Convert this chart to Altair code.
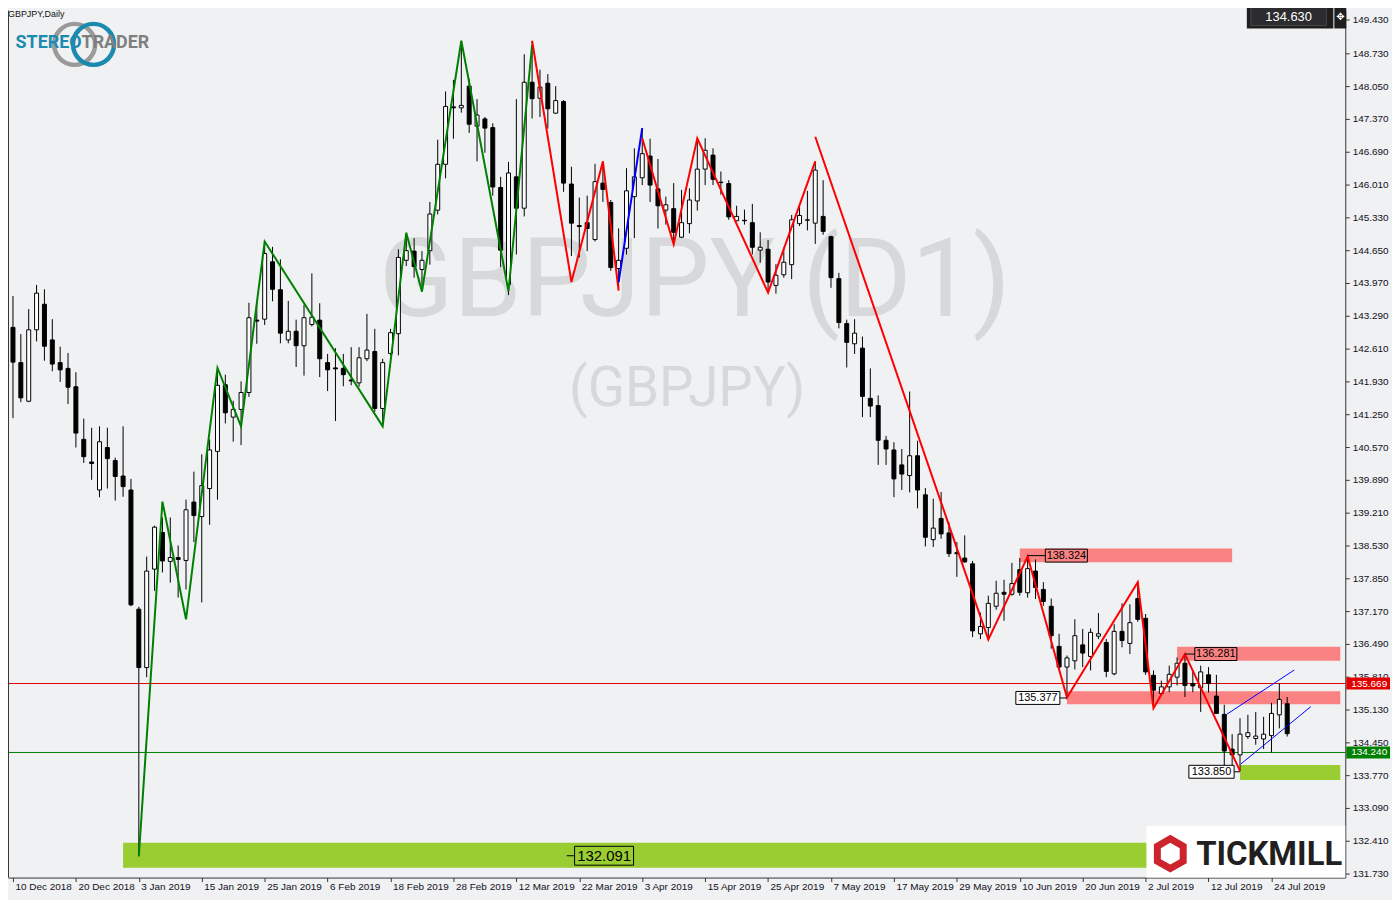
import altair as alt
import pandas as pd

# ---------------- layout constants ----------------
W, H = 1345, 872
XMIN, XMAX = 0.0, 168.75
YMIN, YMAX = 131.648, 149.616
PPU = H / (YMAX - YMIN)          # pixels per price unit
BG = "#F0F1F3"

# ---------------- data ----------------
opens = [143.05, 142.32, 141.52, 143.00, 143.53, 142.79, 142.32, 142.20, 141.82, 140.73,
         140.26, 139.68, 140.56, 140.29, 139.97, 139.68, 137.21, 136.00, 138.04, 138.80,
         138.20, 138.28, 138.22, 139.43, 139.13, 139.71, 140.48, 141.86, 141.19, 141.35,
         141.70, 143.20, 143.22, 144.41, 143.83, 142.79, 142.97, 142.67, 143.11, 143.20,
         142.32, 142.21, 142.20, 141.96, 141.90, 142.40, 142.55, 141.37, 142.51, 142.92,
         144.44, 144.63, 144.25, 144.64, 145.48, 146.43, 147.62, 147.60, 148.05, 147.22,
         147.37, 147.19, 145.95, 143.94, 146.17, 145.52, 148.13, 147.80, 148.11, 147.49,
         147.73, 146.02, 145.16, 145.22, 144.87, 146.04, 145.64, 144.27, 144.69, 145.76,
         146.15, 146.60, 145.92, 145.48, 145.51, 144.92, 145.20, 145.67, 146.33, 146.62,
         146.06, 146.03, 145.26, 145.27, 145.22, 144.65, 144.67, 143.92, 144.14, 144.35,
         145.20, 145.27, 145.21, 145.35, 144.93, 144.06, 143.13, 142.71, 142.62, 141.58,
         141.43, 140.71, 140.51, 140.20, 139.98, 140.39, 139.58, 138.65, 139.09, 138.79,
         138.38, 138.27, 138.15, 136.70, 136.83, 137.27, 137.56, 137.52, 138.03, 137.55,
         138.00, 137.62, 137.27, 136.44, 136.01, 136.14, 136.47, 136.23, 136.65, 136.52,
         135.87, 136.75, 136.50, 137.43, 137.02, 135.84, 135.46, 135.60, 135.80, 136.09,
         135.67, 135.58, 135.85, 135.41, 135.03, 134.31, 134.19, 134.57, 134.53, 134.52,
         134.59, 135.02, 135.25]
highs = [143.70, 142.91, 143.43, 143.93, 143.84, 143.22, 142.65, 142.52, 142.12, 141.16,
         140.97, 141.00, 140.97, 140.35, 141.00, 139.91, 137.26, 138.30, 138.94, 139.11,
         139.11, 138.53, 139.48, 140.06, 140.42, 140.73, 142.19, 142.07, 141.53, 141.93,
         143.56, 143.56, 144.84, 144.72, 144.46, 143.60, 143.21, 143.52, 144.17, 143.55,
         142.50, 142.62, 142.50, 142.64, 142.64, 143.33, 143.02, 142.40, 143.02, 144.67,
         145.01, 144.90, 144.63, 145.65, 146.94, 147.94, 148.18, 148.98, 148.20, 147.78,
         147.41, 147.28, 146.17, 146.48, 147.78, 148.71, 148.98, 148.39, 148.30, 148.05,
         147.76, 146.38, 145.74, 145.78, 146.44, 146.49, 145.69, 145.10, 146.35, 146.76,
         147.18, 146.96, 146.54, 145.76, 146.04, 145.90, 145.93, 146.97, 146.97, 146.76,
         146.28, 146.10, 145.57, 145.49, 145.61, 145.02, 144.86, 144.36, 144.71, 145.38,
         145.61, 145.88, 146.49, 146.10, 144.95, 144.18, 143.21, 143.22, 142.86, 142.20,
         141.64, 140.80, 140.67, 140.53, 141.72, 140.70, 139.72, 139.50, 139.64, 139.01,
         138.60, 138.74, 138.21, 137.14, 137.49, 137.80, 137.82, 138.17, 138.27, 138.32,
         138.24, 137.77, 137.43, 136.70, 136.25, 137.00, 136.80, 136.81, 137.13, 136.59,
         136.90, 137.33, 137.31, 137.78, 137.11, 135.94, 135.73, 136.04, 136.21, 136.28,
         135.94, 136.04, 136.01, 135.85, 135.23, 134.62, 134.95, 135.02, 135.08, 134.98,
         135.27, 135.67, 135.39]
lows = [141.17, 141.50, 141.50, 142.76, 142.36, 142.14, 141.92, 141.46, 140.56, 140.24,
        139.89, 139.53, 139.71, 139.46, 139.54, 137.27, 132.09, 135.80, 137.59, 137.97,
        137.76, 137.45, 137.62, 138.60, 137.35, 138.96, 139.48, 141.06, 140.68, 140.61,
        141.61, 142.71, 143.10, 143.59, 142.72, 142.72, 142.23, 142.05, 143.07, 142.02,
        141.73, 141.11, 141.83, 141.85, 141.82, 142.35, 141.30, 141.02, 142.47, 142.47,
        144.32, 144.08, 143.81, 144.35, 145.39, 146.14, 146.96, 147.50, 147.08, 146.49,
        146.67, 145.78, 144.30, 143.72, 144.56, 145.35, 147.38, 147.41, 147.17, 147.48,
        145.86, 144.53, 144.50, 144.63, 144.83, 145.65, 144.22, 143.85, 144.56, 144.90,
        146.00, 145.65, 145.10, 145.18, 144.78, 144.90, 145.00, 145.47, 146.00, 146.00,
        145.80, 145.28, 145.25, 145.18, 144.56, 144.39, 143.77, 143.75, 144.08, 144.05,
        145.15, 145.06, 144.78, 144.97, 143.87, 143.03, 142.22, 142.50, 141.19, 141.19,
        140.20, 140.20, 139.53, 139.68, 139.63, 139.30, 138.51, 138.50, 138.67, 138.29,
        137.88, 138.17, 136.63, 136.59, 136.58, 137.20, 136.97, 137.49, 137.49, 137.45,
        137.42, 137.28, 136.39, 135.94, 135.38, 135.96, 136.01, 135.94, 136.59, 135.80,
        135.84, 136.42, 136.28, 136.95, 135.85, 135.16, 135.43, 135.49, 135.63, 135.39,
        135.49, 135.08, 135.48, 135.05, 133.97, 133.97, 133.85, 134.52, 134.40, 134.31,
        134.24, 134.74, 134.57]
closes = [142.33, 141.59, 143.00, 143.76, 142.66, 142.29, 142.17, 141.81, 140.86, 140.37,
          140.23, 140.68, 140.33, 139.96, 139.75, 137.30, 136.00, 138.00, 138.91, 138.21,
          138.28, 138.24, 139.27, 139.15, 139.77, 140.51, 141.85, 141.28, 141.35, 141.70,
          143.25, 143.18, 144.58, 143.84, 142.93, 142.97, 142.67, 143.25, 143.26, 142.40,
          142.17, 142.19, 142.07, 141.94, 142.42, 142.58, 141.37, 142.32, 142.94, 144.50,
          144.64, 144.31, 144.44, 145.40, 146.43, 147.63, 147.60, 147.65, 147.26, 147.45,
          147.18, 145.96, 144.65, 146.25, 145.52, 148.13, 147.79, 148.03, 147.58, 147.75,
          146.04, 145.21, 145.14, 145.10, 146.07, 145.91, 144.29, 144.44, 145.88, 146.17,
          146.65, 146.00, 145.57, 145.59, 145.02, 145.22, 145.69, 146.33, 146.72, 146.12,
          146.05, 145.34, 145.35, 145.26, 144.71, 144.71, 143.99, 144.13, 144.40, 145.28,
          145.37, 145.28, 146.31, 145.04, 144.08, 143.15, 142.74, 142.93, 141.62, 141.42,
          140.71, 140.53, 139.91, 140.01, 140.39, 139.68, 138.70, 138.89, 138.77, 138.36,
          138.36, 138.19, 136.76, 136.85, 137.33, 137.54, 137.52, 137.74, 137.56, 138.05,
          137.66, 137.37, 136.66, 136.01, 136.20, 136.66, 136.30, 136.73, 136.70, 135.92,
          136.75, 136.56, 136.93, 137.00, 135.91, 135.53, 135.60, 135.86, 136.09, 135.63,
          135.62, 135.91, 135.67, 135.05, 134.27, 134.19, 134.62, 134.65, 134.58, 134.62,
          135.05, 135.34, 134.63]

date_labels = ["10 Dec 2018", "20 Dec 2018", "3 Jan 2019", "15 Jan 2019", "25 Jan 2019",
               "6 Feb 2019", "18 Feb 2019", "28 Feb 2019", "12 Mar 2019", "22 Mar 2019",
               "3 Apr 2019", "15 Apr 2019", "25 Apr 2019", "7 May 2019", "17 May 2019",
               "29 May 2019", "10 Jun 2019", "20 Jun 2019", "2 Jul 2019", "12 Jul 2019",
               "24 Jul 2019"]
date_ticks = [8 * k for k in range(len(date_labels))]
price_ticks = [149.43, 148.73, 148.05, 147.37, 146.69, 146.01, 145.33, 144.65, 143.97,
               143.29, 142.61, 141.93, 141.25, 140.57, 139.89, 139.21, 138.53, 137.85,
               137.17, 136.49, 135.81, 135.13, 134.45, 133.77, 133.09, 132.41, 131.73]

# zigzag polylines (bar index, price)
zz_green = [(16, 132.09), (19, 139.44), (22, 137.00), (26, 142.21), (29, 141.00), (32, 144.83),
            (47, 141.00), (50, 145.01), (52, 143.79), (57, 148.99), (63, 143.80), (66, 148.90)]
zz_red_a = [(66, 148.99), (71, 143.99), (75, 146.49), (77, 143.81)]
zz_blue = [(77, 143.99), (80, 147.18)]
zz_red_b = [(80, 146.97), (84, 144.77), (87, 146.97), (96, 143.77), (102, 146.49)]
zz_red_c = [(102, 147.00), (124, 136.58), (129, 138.30), (134, 135.38), (143, 137.77),
            (145, 135.16), (149, 136.28), (156, 133.86)]
chan_upper = [(154.3, 135.03), (162.9, 135.95)]
chan_lower = [(156.1, 134.00), (165.0, 135.19)]

# zones
zone_x0 = [128, 148, 134, 156, 14]
zone_x1 = [155, XMAX, XMAX, XMAX, XMAX]
zone_top = [138.47, 136.43, 135.51, 133.98, 132.37]
zone_bot = [138.18, 136.14, 135.24, 133.67, 131.85]
zone_col = ["#FA8282", "#FA8282", "#FA8282", "#9ACD32", "#9ACD32"]

# level labels
ann_text = ["138.324", "136.281", "135.377", "133.850", "132.091"]
ann_price = [138.32, 136.28, 135.37, 133.84, 132.10]
ann_x0 = [131.25, 150.25, 127.5, 149.5, 71.4]
ann_x1 = [136.6, 155.6, 133.1, 155.25, 78.9]
ann_anchor = [129, 149, 134, 156, 70.4]
ann_fill = ["transparent", "transparent", "#FFFFFF", "#FFFFFF", "transparent"]
ann_fs = [11, 11, 11, 11, 15]
ann_hpx = [13, 13, 13, 13, 19]

hline_price = [135.669, 134.240]
hline_col = ["#E00000", "#008000"]
last_price = 134.630

# ---------------- frames ----------------
candles = pd.DataFrame({"i": list(range(len(opens))), "o": opens, "h": highs, "l": lows, "c": closes})
candles["lo"] = candles[["o", "c"]].min(axis=1)
candles["hi"] = candles[["o", "c"]].max(axis=1)

rows = []
for sid, (pts, col) in enumerate([(zz_green, "#008000"), (zz_red_a, "#FF0000"), (zz_blue, "#0000FF"),
                                  (zz_red_b, "#FF0000"), (zz_red_c, "#FF0000")]):
    for k, (i, p) in enumerate(pts):
        rows.append({"seg": sid, "ord": k, "i": i, "p": p, "col": col})
zz = pd.DataFrame(rows)

rows = []
for sid, pts in enumerate([chan_upper, chan_lower]):
    for k, (i, p) in enumerate(pts):
        rows.append({"seg": sid, "ord": k, "i": i, "p": p})
chan = pd.DataFrame(rows)

zones = pd.DataFrame({"x0": zone_x0, "x1": zone_x1, "top": zone_top, "bot": zone_bot, "col": zone_col})

ann = pd.DataFrame({"t": ann_text, "p": ann_price, "x0": ann_x0, "x1": ann_x1, "a": ann_anchor,
                    "fill": ann_fill, "fs": ann_fs, "hpx": ann_hpx})
ann["xm"] = (ann["x0"] + ann["x1"]) / 2
ann["top"] = ann["p"] + ann["hpx"] / 2 / PPU
ann["bot"] = ann["p"] - ann["hpx"] / 2 / PPU
ann["c0"] = [a if a < x0 else x1 for a, x0, x1 in zip(ann["a"], ann["x0"], ann["x1"])]
ann["c1"] = [x0 if a < x0 else a for a, x0, x1 in zip(ann["a"], ann["x0"], ann["x1"])]

hl = pd.DataFrame({"p": hline_price, "col": hline_col,
                   "t": [f"{v:.3f}" for v in hline_price]})
hl["top"] = hl["p"] + 6 / PPU
hl["bot"] = hl["p"] - 6 / PPU

# ---------------- scales / axes ----------------
xs = alt.Scale(domain=[XMIN, XMAX], nice=False, zero=False)
ys = alt.Scale(domain=[YMIN, YMAX], nice=False, zero=False)
label_expr = "[" + ",".join(f"'{s}'" for s in date_labels) + "][round(datum.value / 8)]"
xaxis = alt.Axis(values=date_ticks, labelExpr=label_expr, orient="bottom", tickSize=4,
                 labelAlign="left", labelBaseline="top", labelPadding=0, labelOffset=2,
                 labelFont="Liberation Sans", labelFontSize=10, labelColor="#101020",
                 domainColor="#333333", tickColor="#333333", grid=False, title=None,
                 labelOverlap=False, labelFlush=False, labelBound=False)
yaxis = alt.Axis(values=price_ticks, format=".3f", orient="right", tickSize=4, labelPadding=3,
                 labelFont="Liberation Sans", labelFontSize=10, labelColor="#101020",
                 domainColor="#333333", tickColor="#333333", grid=False, title=None,
                 labelOverlap=False, labelFlush=False, labelBound=False)


def X(f):
    return alt.X(f, type="quantitative", scale=xs, axis=xaxis, title=None)


def Y(f):
    return alt.Y(f, type="quantitative", scale=ys, axis=yaxis, title=None)


def one():
    return pd.DataFrame([{"k": 0}])


# ---------------- layers ----------------
left_border = alt.Chart(one()).mark_rule(color="#333333", strokeWidth=1).encode(
    x=alt.value(0.5), y=alt.value(0), y2=alt.value(H))

wm1 = alt.Chart(one()).mark_text(text="GBPJPY (D1)", font="Roboto", fontSize=110, color="#D7D8DA",
                                 align="center", baseline="middle").encode(
    x=alt.value(691), y=alt.value(274))
wm2 = alt.Chart(one()).mark_text(text="(GBPJPY)", font="Roboto", fontSize=55, color="#D7D8DA",
                                 align="center", baseline="middle").encode(
    x=alt.value(683), y=alt.value(381))

zone_layer = alt.Chart(zones).mark_rect().encode(
    x=X("x0"), x2=alt.X2("x1"), y=Y("top"), y2=alt.Y2("bot"), fill=alt.Fill("col:N", scale=None))

hline_layer = alt.Chart(hl).mark_rule(strokeWidth=1).encode(
    y=Y("p"), x=alt.value(0), x2=alt.value(W), color=alt.Color("col:N", scale=None))

wicks = alt.Chart(candles).mark_rule(color="#000000", strokeWidth=1).encode(
    x=X("i"), y=Y("l"), y2=alt.Y2("h"))
bodies = alt.Chart(candles).mark_bar(size=4, stroke="#000000", strokeWidth=1).encode(
    x=X("i"), y=Y("lo"), y2=alt.Y2("hi"),
    fill=alt.condition("datum.c >= datum.o", alt.value("#FFFFFF"), alt.value("#000000")))

zz_layer = alt.Chart(zz).mark_line(strokeWidth=2).encode(
    x=X("i"), y=Y("p"), detail="seg:N", order="ord:Q", color=alt.Color("col:N", scale=None))
chan_layer = alt.Chart(chan).mark_line(strokeWidth=1, color="#0000FF").encode(
    x=X("i"), y=Y("p"), detail="seg:N", order="ord:Q")

conn = alt.Chart(ann).mark_rule(color="#000000", strokeWidth=1).encode(
    x=X("c0"), x2=alt.X2("c1"), y=Y("p"))
ann_box = alt.Chart(ann).mark_rect(stroke="#000000", strokeWidth=1).encode(
    x=X("x0"), x2=alt.X2("x1"), y=Y("top"), y2=alt.Y2("bot"), fill=alt.Fill("fill:N", scale=None))
ann_txt = alt.Chart(ann).mark_text(font="Liberation Sans", color="#000000", baseline="middle",
                                   align="center").encode(
    x=X("xm"), y=Y("p"), text="t:N", size=alt.Size("fs:Q", scale=None))

ax_box = alt.Chart(hl).mark_rect().encode(
    x=alt.value(W + 1), x2=alt.value(W + 45), y=Y("top"), y2=alt.Y2("bot"),
    fill=alt.Fill("col:N", scale=None))
ax_txt = alt.Chart(hl).mark_text(font="Liberation Sans", fontSize=10, color="#FFFFFF",
                                 align="left", baseline="middle").encode(
    x=alt.value(W + 6), y=Y("p"), text="t:N")

header = alt.Chart(one()).mark_text(text="GBPJPY,Daily", font="Liberation Sans", fontSize=9,
                                    color="#111111", align="left", baseline="middle").encode(
    x=alt.value(0), y=alt.value(3))

ring_grey = alt.Chart(one()).mark_point(shape="circle", size=1700, filled=False, strokeWidth=4.5,
                                        color="#9A9A9A", opacity=1).encode(
    x=alt.value(67), y=alt.value(34))
ring_teal = alt.Chart(one()).mark_point(shape="circle", size=1700, filled=False, strokeWidth=4.5,
                                        color="#1B8AAE", opacity=1).encode(
    x=alt.value(86), y=alt.value(34))
logo_a = alt.Chart(one()).mark_text(text="STEREO", font="Roboto", fontWeight="bold", fontSize=18,
                                    color="#1B8AAE", align="right", baseline="middle").encode(
    x=alt.value(74), y=alt.value(33))
logo_b = alt.Chart(one()).mark_text(text="TRADER", font="Roboto", fontWeight="bold", fontSize=18,
                                    color="#7F7F7F", align="left", baseline="middle").encode(
    x=alt.value(74), y=alt.value(33))

price_box = alt.Chart(one()).mark_rect(fill="#1E1E1E").encode(
    x=alt.value(1246), x2=alt.value(1333), y=alt.value(-6), y2=alt.value(18))
price_inner = alt.Chart(one()).mark_rect(fill="#2C2C2E", stroke="#4A4A4A", strokeWidth=1).encode(
    x=alt.value(1250), x2=alt.value(1326), y=alt.value(-3), y2=alt.value(15))
price_box2 = alt.Chart(one()).mark_rect(fill="#1E1E1E").encode(
    x=alt.value(1334), x2=alt.value(1346), y=alt.value(-6), y2=alt.value(18))
price_txt = alt.Chart(pd.DataFrame({"t": [f"{last_price:.3f}"]})).mark_text(
    font="Liberation Sans", fontSize=13, color="#FFFFFF", align="center", baseline="middle").encode(
    x=alt.value(1288), y=alt.value(6), text="t:N")
price_icon = alt.Chart(one()).mark_text(text="\u2725", font="DejaVu Sans", fontSize=10,
                                        color="#FFFFFF", align="center", baseline="middle").encode(
    x=alt.value(1340), y=alt.value(6))

tm_box = alt.Chart(one()).mark_rect(fill="#FFFFFF").encode(
    x=alt.value(1145), x2=alt.value(W), y=alt.value(820), y2=alt.value(H))
tm_icon = alt.Chart(one()).mark_point(
    shape="M0,-1L0.866,-0.5L0.866,0.5L0,1L-0.866,0.5L-0.866,-0.5Z", size=900, filled=False,
    strokeWidth=7, color="#CD232D", opacity=1).encode(x=alt.value(1169), y=alt.value(848))
tm_txt = alt.Chart(one()).mark_text(text="TICKMILL", font="Roboto", fontWeight="bold", fontSize=33,
                                    color="#231F20", align="left", baseline="middle").encode(
    x=alt.value(1195), y=alt.value(849))

chart = alt.layer(
    wm1, wm2, zone_layer, hline_layer, wicks, bodies, zz_layer, chan_layer,
    conn, ann_box, ann_txt, ax_box, ax_txt, header, ring_grey, ring_teal, logo_a, logo_b,
    price_box, price_inner, price_box2, price_txt, price_icon, tm_box, tm_icon, tm_txt, left_border
).properties(
    width=W, height=H, background=BG,
    padding={"left": 0, "top": 0, "right": 47, "bottom": 20},
    autosize=alt.AutoSizeParams(type="none")
).configure_view(fill=BG, strokeWidth=0)

chart.save("out.html", embed_options={"renderer": "svg", "actions": False})
